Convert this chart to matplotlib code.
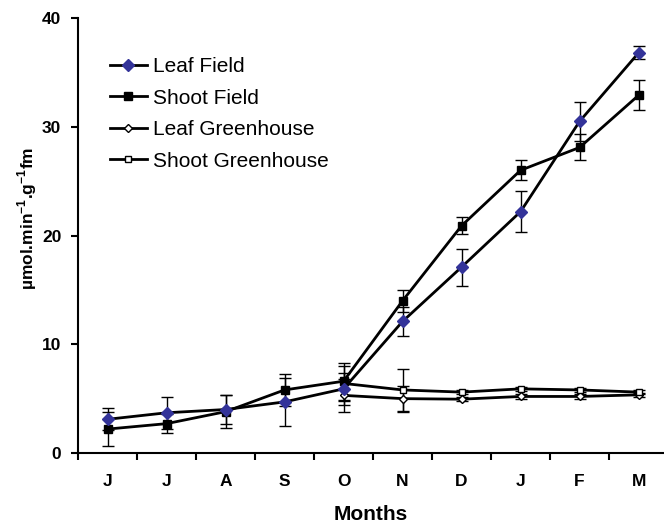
import numpy as np
import matplotlib
matplotlib.use("Agg")
import matplotlib.pyplot as plt
from matplotlib.ticker import FixedLocator

plt.rcParams['font.family'] = ['Liberation Sans', 'DejaVu Sans']
plt.rcParams['mathtext.fontset'] = 'custom'
plt.rcParams['mathtext.rm'] = 'Liberation Sans:bold'
plt.rcParams['mathtext.bf'] = 'Liberation Sans:bold'

months = ["J", "J", "A", "S", "O", "N", "D", "J", "F", "M"]

leaf_field = [3.1, 3.7, 4.0, 4.7, 5.9, 12.1, 17.1, 22.2, 30.5, 36.8]
leaf_field_err = [1.0, 1.45, 1.3, 2.2, 1.5, 1.3, 1.7, 1.9, 1.8, 0.6]

shoot_field = [2.2, 2.7, 3.8, 5.8, 6.6, 14.0, 20.9, 26.0, 28.1, 32.9]
shoot_field_err = [1.6, 0.9, 1.5, 1.5, 1.7, 1.0, 0.8, 0.9, 1.2, 1.4]

# greenhouse series start in October
gh_months_idx = [4, 5, 6, 7, 8, 9]
leaf_gh = [5.3, 5.0, 4.95, 5.2, 5.2, 5.35]
leaf_gh_err = [1.5, 1.2, 0.2, 0.2, 0.2, 0.2]
shoot_gh = [6.4, 5.8, 5.6, 5.9, 5.8, 5.6]
shoot_gh_err = [1.6, 1.9, 0.2, 0.2, 0.2, 0.2]

fig = plt.figure(figsize=(6.64, 5.27), dpi=100)
ax = fig.add_axes([0.1175, 0.1404, 0.8825, 0.8254])

x = np.arange(len(months))
blue = "#333399"
ekw = dict(ecolor="black", elinewidth=1, capsize=4.5, capthick=1)

ax.errorbar(gh_months_idx, leaf_gh, yerr=leaf_gh_err, color="black", lw=2,
            marker="D", ms=4, mfc="white", mec="black", mew=1, label="Leaf Greenhouse", **ekw)
ax.errorbar(gh_months_idx, shoot_gh, yerr=shoot_gh_err, color="black", lw=2,
            marker="s", ms=5, mfc="white", mec="black", mew=1, label="Shoot Greenhouse", **ekw)
ax.errorbar(x, shoot_field, yerr=shoot_field_err, color="black", lw=2,
            marker="s", ms=6, mfc="black", mec="black", label="Shoot Field", **ekw)
ax.errorbar(x, leaf_field, yerr=leaf_field_err, color="black", lw=2,
            marker="D", ms=6, mfc=blue, mec=blue, label="Leaf Field", **ekw)

ax.set_xlim(-0.5, 9.43)
ax.set_ylim(0, 40)
ax.set_xticks(x)
ax.set_xticklabels(months, fontsize=12.5, fontweight="bold")
ax.xaxis.set_minor_locator(FixedLocator(np.arange(-0.5, 9.0, 1.0)))
ax.tick_params(axis="x", which="major", length=0, pad=15)
ax.tick_params(axis="x", which="minor", length=5, width=1.5, direction="out")
ax.set_yticks([0, 10, 20, 30, 40])
ax.set_yticklabels(["0", "10", "20", "30", "40"], fontsize=12.5, fontweight="bold")
ax.tick_params(axis="y", length=5, width=1.5, direction="out", pad=7)

for s in ["top", "right"]:
    ax.spines[s].set_visible(False)
for s in ["left", "bottom"]:
    ax.spines[s].set_linewidth(1.5)

ax.set_xlabel("Months", fontsize=15, fontweight="bold")
ax.xaxis.set_label_coords(0.5, -0.12)
ax.set_ylabel(r"µmol.min$^{-1}$.g$^{-1}$fm", fontsize=12.5, fontweight="bold")
ax.yaxis.set_label_coords(-0.066, 0.54)

handles, labels = ax.get_legend_handles_labels()
order = ["Leaf Field", "Shoot Field", "Leaf Greenhouse", "Shoot Greenhouse"]
hmap = dict(zip(labels, handles))
leg = ax.legend([hmap[k].lines[0] for k in order], order, loc="upper left",
                bbox_to_anchor=(0.055, 0.91), frameon=False, fontsize=15,
                borderpad=0, borderaxespad=0,
                handlelength=1.75, handletextpad=0.3, labelspacing=0.6)

fig.savefig("out.png", dpi=100)
